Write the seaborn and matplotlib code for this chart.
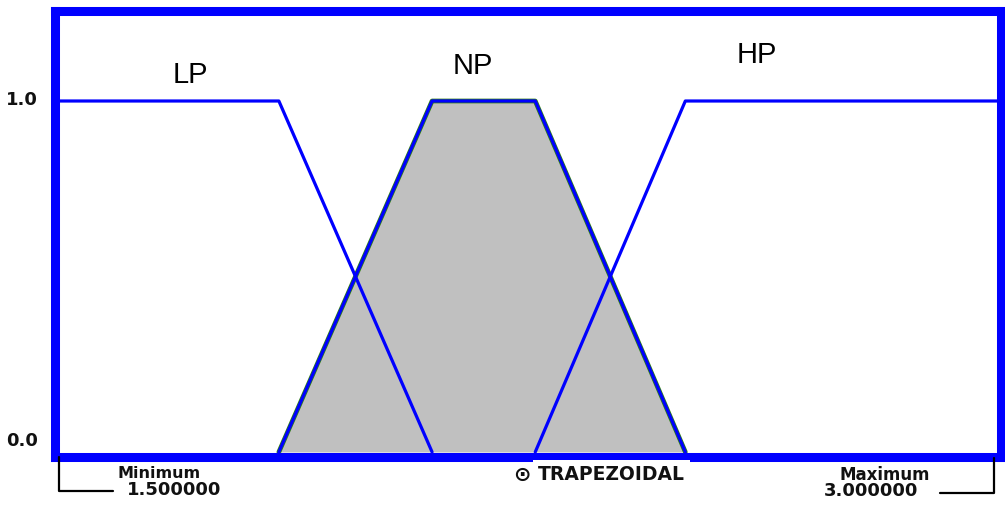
import matplotlib
matplotlib.use("Agg")
import matplotlib.pyplot as plt
import seaborn as sns
import pandas as pd
import numpy as np

# ---- data ----
sets = ["LP", "NP", "HP"]
lp_x = [1.5, 1.85, 2.095]
lp_y = [1.0, 1.0, 0.0]
np_x = [1.85, 2.095, 2.26, 2.5]
np_y = [0.0, 1.0, 1.0, 0.0]
hp_x = [2.26, 2.5, 3.0]
hp_y = [0.0, 1.0, 1.0]
label_x = [1.708, 2.16, 2.615]
label_y = [1.074, 1.10, 1.13]
x_min, x_max = 1.5, 3.0
y_ticks = ["1.0", "0.0"]
shape_name = "TRAPEZOIDAL"

W, H = 1005, 518
sns.set_theme(style="white")
plt.rcParams['font.family'] = ['Liberation Sans', 'DejaVu Sans']
fig = plt.figure(figsize=(W / 100, H / 100), dpi=100)

# axes box placed so thick frame is centred on the border
left_px, right_px, top_px, bot_px = 55, 1001, 11, 457
ax = fig.add_axes([left_px / W, 1 - bot_px / H, (right_px - left_px) / W, (bot_px - top_px) / H])
sx = 1.5 / 938.0
sy = 1.0 / 351.0
ax.set_xlim(x_min - 5 * sx, x_max + 3 * sx)
ax.set_ylim(-5 * sy, 1.0 + (101 - 11) * sy)

blue = "#0000FF"
ax.fill_between(np_x, np_y, 0, color="#C0C0C0", zorder=1, linewidth=0)
df_np = pd.DataFrame({"x": np_x, "y": np_y})
sns.lineplot(data=df_np, x="x", y="y", sort=False, color="#2E7D12", linewidth=3.4, ax=ax, zorder=2)
sns.lineplot(data=df_np, x="x", y="y", sort=False, color=blue, linewidth=2.3, ax=ax, zorder=3)
for xs, ys in [(lp_x, lp_y), (hp_x, hp_y)]:
    d = pd.DataFrame({"x": xs, "y": ys})
    sns.lineplot(data=d, x="x", y="y", sort=False, color=blue, linewidth=2.3, ax=ax, zorder=3)

for name, lx, ly in zip(sets, label_x, label_y):
    ax.text(lx, ly, name, fontsize=21, ha="center", va="center", color="black")

ax.set_xticks([])
ax.set_yticks([])
ax.set_xlabel("")
ax.set_ylabel("")
for s in ax.spines.values():
    s.set_color(blue)
    s.set_linewidth(6.5)
    s.set_visible(True)

def ftext(px, py, s, **kw):
    fig.text(px / W, 1 - py / H, s, **kw)

bold = dict(fontweight="bold", family=["DejaVu Sans"], color="#111111")
ftext(38, 100, y_ticks[0], ha="right", va="center", fontsize=13, **bold)
ftext(38, 441, y_ticks[1], ha="right", va="center", fontsize=13, **bold)

ftext(117, 474, "Minimum", ha="left", va="center", fontsize=11.5, **bold)
ftext(127, 490, f"{x_min:.6f}", ha="left", va="center", fontsize=13, **bold)
ftext(930, 475, "Maximum", ha="right", va="center", fontsize=12, **bold)
ftext(918, 491, f"{x_max:.6f}", ha="right", va="center", fontsize=13, **bold)
ftext(538, 474, shape_name, ha="left", va="center", fontsize=13.5, **bold,
      bbox=dict(boxstyle="square,pad=0.25", fc="white", ec="none"))
ftext(522, 475, "⊙", ha="center", va="center", fontsize=15, **bold)

# bracket lines
fig.add_artist(plt.Line2D([59 / W, 59 / W, 113 / W], [1 - 457 / H, 1 - 491 / H, 1 - 491 / H],
                          color="black", linewidth=1.6))
fig.add_artist(plt.Line2D([940 / W, 994 / W, 994 / W], [1 - 493 / H, 1 - 493 / H, 1 - 458 / H],
                          color="black", linewidth=1.6))

fig.savefig("out.png", dpi=100, facecolor="white")
